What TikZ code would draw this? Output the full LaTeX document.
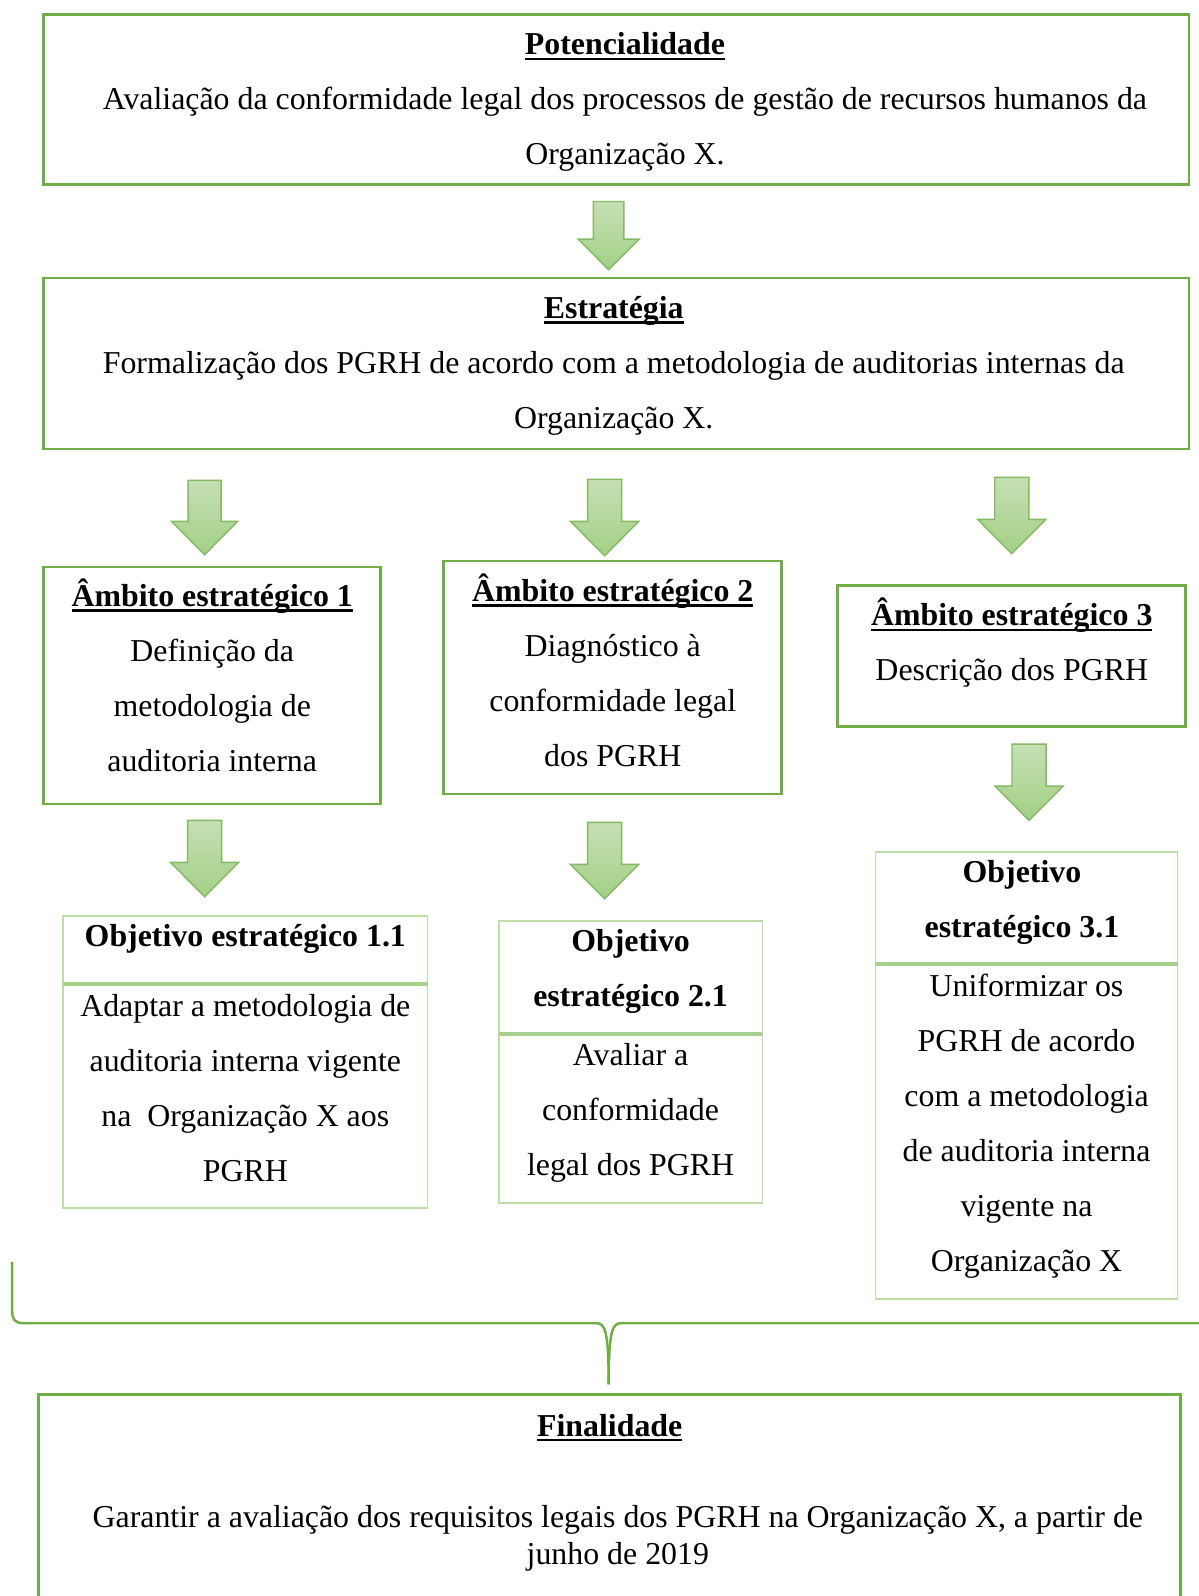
\documentclass[tikz,border=0pt]{standalone}
\usepackage{fontspec}
\setmainfont{Liberation Serif}
\usetikzlibrary{positioning}
\usetikzlibrary{calc}
\definecolor{frame}{HTML}{70AD47}
\definecolor{lightframe}{HTML}{BEDDA8}
\definecolor{rulegreen}{HTML}{A9D18E}
\definecolor{arrtop}{HTML}{C5E0B4}
\definecolor{arrbot}{HTML}{A3CF86}
\tikzset{panel/.style={draw=frame,
                       line width=2.6pt,
                       inner sep=0pt,
                       outer sep=0pt,
                       anchor=north west}}
\tikzset{goalpanel/.style={panel,draw=lightframe,line width=1.6pt}}
\tikzset{arrowfill/.style={draw=frame!85,
                           line width=1.4pt,
                           top color=arrtop,
                           bottom color=arrbot}}
\tikzset{pics/downarr/.style 2 args={code={
  \path[arrowfill] (-#1/4,0) -- (#1/4,0) -- (#1/4,0.55*#2) -- (#1/2,0.55*#2)
    -- (0,#2) -- (-#1/2,0.55*#2) -- (-#1/4,0.55*#2) -- cycle;
}}}
% width, height, first baseline, left shift, text
\newcommand{\boxtxt}[5]{\parbox[c][#2pt][t]{#1pt}{\centering\leftskip=#4pt plus 1fil\rule{0pt}{#3pt}#5}}
\newcommand{\ultitle}[1]{\setbox0\hbox{\textbf{#1}}\rlap{\rule[-5pt]{\wd0}{2.4pt}}\box0}

\begin{document}
\begin{tikzpicture}[x=1pt,y=-1pt,font=\fontsize{31.3}{54}\selectfont]
  \useasboundingbox (0,0) rectangle (1177,1568);

  % main panels
  \node [panel] (pot) at (43,14)
    {\boxtxt{1125}{167}{40}{17}{\ultitle{Potencialidade}\\Avaliação da conformidade legal dos processos de gestão de recursos humanos da\\Organização X.}};
  \node [panel] (est) at (43,273)
    {\boxtxt{1125}{168}{40}{-5}{\ultitle{Estratégia}\\Formalização dos PGRH de acordo com a metodologia de auditorias internas da\\Organização X.}};

  % scopes
  \node [panel] (amb1) at (43,557)
    {\boxtxt{331}{233}{39}{0}{\ultitle{Âmbito estratégico 1}\\Definição da\\metodologia de\\auditoria interna}};
  \node [panel] (amb2) at (436,551)
    {\boxtxt{332}{229}{40}{0}{\ultitle{Âmbito estratégico 2}\\Diagnóstico à\\conformidade legal\\dos PGRH}};
  \node [panel] (amb3) at (823,575)
    {\boxtxt{342}{139}{40}{0}{\ultitle{Âmbito estratégico 3}\\Descrição dos PGRH}};

  % objectives
  \node [goalpanel] (objh1) at (62,900)
    {\boxtxt{358}{67}{30}{0}{\textbf{Objetivo estratégico 1.1}}};
  \node [goalpanel,below right=0pt and 0pt of objh1.south west] (objb1)
    {\boxtxt{358}{220}{32}{0}{Adaptar a metodologia de\\auditoria interna vigente\\na\ \ Organização X aos\\PGRH}};
  \node [goalpanel] (objh2) at (490,905)
    {\boxtxt{259}{111}{30}{0}{\textbf{Objetivo}\\\textbf{estratégico 2.1}}};
  \node [goalpanel,below right=0pt and 0pt of objh2.south west] (objb2)
    {\boxtxt{259}{166}{31}{0}{Avaliar a\\conformidade\\legal dos PGRH}};
  \node [goalpanel] (objh3) at (860,837)
    {\boxtxt{297}{110}{30}{-9}{\textbf{Objetivo}\\\textbf{estratégico 3.1}}};
  \node [goalpanel,below right=0pt and 0pt of objh3.south west] (objb3)
    {\boxtxt{297}{329}{32}{0}{Uniformizar os\\PGRH de acordo\\com a metodologia\\de auditoria interna\\vigente na\\Organização X}};

  % header rules
  \foreach \i in {1,2,3}
    \draw [rulegreen,line width=3.6pt] (objh\i.south west) -- (objh\i.south east);

  % purpose
  \node [panel] (fin) at (38,1370)
    {\boxtxt{1122}{260}{41}{0}{\ultitle{Finalidade}\\[54pt]\leftskip=16pt plus 1fil\fontsize{31.3}{36}\selectfont Garantir a avaliação dos requisitos legais dos PGRH na Organização X, a partir de\\junho de 2019}};

  % block arrows
  \foreach \x/\y/\w/\h in {598/198/60/67, 201/472/65/73, 594/471/67/75, 994/469/67/75,
                          201/806/67/75, 594/808/67/75, 1011/731/67/75}
    \pic at (\x,\y) {downarr={\w}{\h}};

  % brace
  \coordinate (bracetip) at ($(fin.north)+(-1,-10)$);
  \draw [frame,line width=2.4pt] (12,1240) -- (12,1288)
    .. controls (12,1297) and (15,1300) .. (24,1300) -- (586,1300)
    .. controls (594,1300) and (598,1306) .. (bracetip);
  \draw [frame,line width=2.4pt] (bracetip)
    .. controls (598,1306) and (602,1300) .. (610,1300) -- (1190,1300);
\end{tikzpicture}
\end{document}
